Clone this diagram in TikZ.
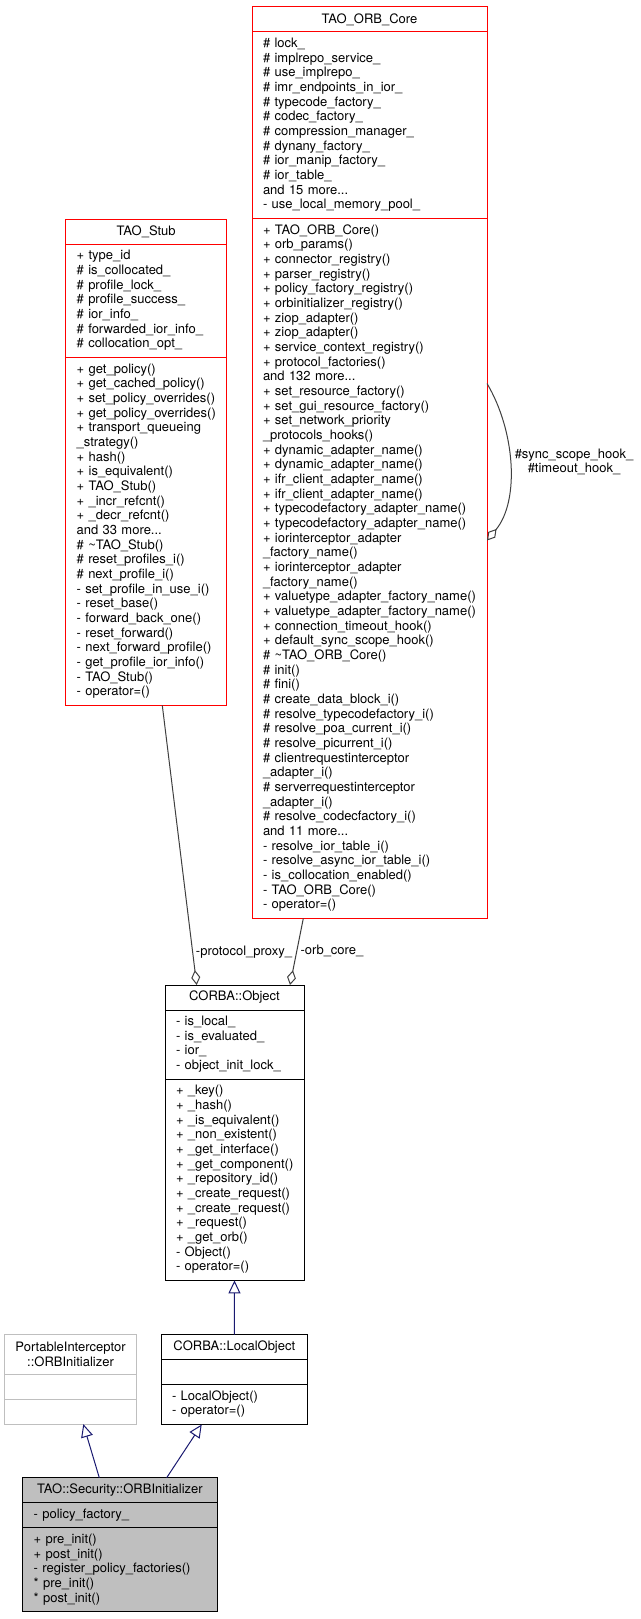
\documentclass[tikz,border=0pt]{standalone}
\usepackage{fontspec}
\setmainfont{TeX Gyre Heros}
\usetikzlibrary{positioning,arrows.meta}
\definecolor{edgegray}{HTML}{404040}
\definecolor{boxgray}{HTML}{BFBFBF}
\definecolor{navy}{HTML}{191970}
\newcommand{\umlfont}{\fontsize{13pt}{14.67pt}\selectfont\hyphenpenalty=10000 }
\begin{document}
\begin{tikzpicture}[x=1pt,y=-1pt,line width=1pt,
  classtitle/.style={draw, inner sep=0pt, outer sep=0pt, text width=#1, align=center, minimum height=25pt, font=\umlfont},
  member/.style={draw, inner sep=0pt, outer sep=0pt, text width=#1, align=left, font=\umlfont,
    execute at begin node={\leftskip=11pt\strut}, execute at end node={\strut}},
  emptypart/.style={draw, inner sep=0pt, outer sep=0pt, minimum width=#1, minimum height=25pt},
  aggr/.style={draw=edgegray, -{Diamond[open,length=15pt,width=9pt]}},
  inherit/.style={draw=navy, -{Triangle[open,length=13pt,width=12pt]}},
  edgelabel/.style={inner sep=0pt, font=\umlfont}]
\useasboundingbox (0,0) rectangle (640,1619);
\node[classtitle=235pt, draw=red, anchor=north west] (core) at (252,7) {TAO\_ORB\_Core};
\node[member=235pt, draw=red, minimum height=186.5pt, below=0pt of core] (coreattr) {\# lock\_\\
\# implrepo\_service\_\\
\# use\_implrepo\_\\
\# imr\_endpoints\_in\_ior\_\\
\# typecode\_factory\_\\
\# codec\_factory\_\\
\# compression\_manager\_\\
\# dynany\_factory\_\\
\# ior\_manip\_factory\_\\
\# ior\_table\_\\
and 15 more...\\
- use\_local\_memory\_pool\_};
\node[member=235pt, draw=red, minimum height=700pt, below=0pt of coreattr] (coreops) {+ TAO\_ORB\_Core()\\
+ orb\_params()\\
+ connector\_registry()\\
+ parser\_registry()\\
+ policy\_factory\_registry()\\
+ orbinitializer\_registry()\\
+ ziop\_adapter()\\
+ ziop\_adapter()\\
+ service\_context\_registry()\\
+ protocol\_factories()\\
and 132 more...\\
+ set\_resource\_factory()\\
+ set\_gui\_resource\_factory()\\
+ set\_network\_priority\\
\_protocols\_hooks()\\
+ dynamic\_adapter\_name()\\
+ dynamic\_adapter\_name()\\
+ ifr\_client\_adapter\_name()\\
+ ifr\_client\_adapter\_name()\\
+ typecodefactory\_adapter\_name()\\
+ typecodefactory\_adapter\_name()\\
+ iorinterceptor\_adapter\\
\_factory\_name()\\
+ iorinterceptor\_adapter\\
\_factory\_name()\\
+ valuetype\_adapter\_factory\_name()\\
+ valuetype\_adapter\_factory\_name()\\
+ connection\_timeout\_hook()\\
+ default\_sync\_scope\_hook()\\
\# \textasciitilde TAO\_ORB\_Core()\\
\# init()\\
\# fini()\\
\# create\_data\_block\_i()\\
\# resolve\_typecodefactory\_i()\\
\# resolve\_poa\_current\_i()\\
\# resolve\_picurrent\_i()\\
\# clientrequestinterceptor\\
\_adapter\_i()\\
\# serverrequestinterceptor\\
\_adapter\_i()\\
\# resolve\_codecfactory\_i()\\
and 11 more...\\
- resolve\_ior\_table\_i()\\
- resolve\_async\_ior\_table\_i()\\
- is\_collocation\_enabled()\\
- TAO\_ORB\_Core()\\
- operator=()};
\node[classtitle=161pt, draw=red, anchor=north west] (stub) at (65.7,219.3) {TAO\_Stub};
\node[member=161pt, draw=red, minimum height=113.2pt, below=0pt of stub] (stubattr) {+ type\_id\\
\# is\_collocated\_\\
\# profile\_lock\_\\
\# profile\_success\_\\
\# ior\_info\_\\
\# forwarded\_ior\_info\_\\
\# collocation\_opt\_};
\node[member=161pt, draw=red, minimum height=347.9pt, below=0pt of stubattr] (stubops) {+ get\_policy()\\
+ get\_cached\_policy()\\
+ set\_policy\_overrides()\\
+ get\_policy\_overrides()\\
+ transport\_queueing\\
\_strategy()\\
+ hash()\\
+ is\_equivalent()\\
+ TAO\_Stub()\\
+ \_incr\_refcnt()\\
+ \_decr\_refcnt()\\
and 33 more...\\
\# \textasciitilde TAO\_Stub()\\
\# reset\_profiles\_i()\\
\# next\_profile\_i()\\
- set\_profile\_in\_use\_i()\\
- reset\_base()\\
- forward\_back\_one()\\
- reset\_forward()\\
- next\_forward\_profile()\\
- get\_profile\_ior\_info()\\
- TAO\_Stub()\\
- operator=()};
\node[classtitle=139pt, anchor=north west] (obj) at (165,985) {CORBA::Object};
\node[member=139pt, minimum height=69.2pt, below=0pt of obj] (objattr) {- is\_local\_\\
- is\_evaluated\_\\
- ior\_\\
- object\_init\_lock\_};
\node[member=139pt, minimum height=201.2pt, below=0pt of objattr] (objops) {+ \_key()\\
+ \_hash()\\
+ \_is\_equivalent()\\
+ \_non\_existent()\\
+ \_get\_interface()\\
+ \_get\_component()\\
+ \_repository\_id()\\
+ \_create\_request()\\
+ \_create\_request()\\
+ \_request()\\
+ \_get\_orb()\\
- Object()\\
- operator=()};
\node[classtitle=132.4pt, draw=boxgray, minimum height=39.8pt, anchor=north west] (pi) at (4.3,1334.3) {PortableInterceptor\\::ORBInitializer};
\node[emptypart=132.4pt, draw=boxgray, below=0pt of pi] (piattr) {};
\node[emptypart=132.4pt, draw=boxgray, below=0pt of piattr] (piops) {};
\node[classtitle=146.7pt, anchor=north west] (local) at (161,1334.7) {CORBA::LocalObject};
\node[emptypart=146.7pt, below=0pt of local] (localattr) {};
\node[member=146.7pt, minimum height=39.8pt, below=0pt of localattr] (localops) {- LocalObject()\\
- operator=()};
\node[classtitle=194.6pt, fill=boxgray, anchor=north west] (sec) at (22.7,1477.7) {TAO::Security::ORBInitializer};
\node[member=194.6pt, fill=boxgray, minimum height=25.2pt, below=0pt of sec] (secattr) {- policy\_factory\_};
\node[member=194.6pt, fill=boxgray, minimum height=83.9pt, below=0pt of secattr] (secops) {+ pre\_init()\\
+ post\_init()\\
- register\_policy\_factories()\\
{*} pre\_init()\\
{*} post\_init()};
\draw[aggr] ([xshift=96.6pt]stubops.south west) -- ([xshift=31.7pt]obj.north west);
\draw[aggr] ([xshift=51.3pt]coreops.south west) -- ([xshift=125pt]obj.north west);
\draw[aggr] ([yshift=-165pt]coreops.north east) .. controls +(28,47) and +(33,-40) .. ([yshift=-322pt]coreops.north east);
\node[edgelabel] (proxylabel) at (244,952) {-protocol\_proxy\_};
\node[edgelabel] (corelabel) at (332,951) {-orb\_core\_};
\node[edgelabel, align=center] (hooklabel) at (574,462) {\#sync\_scope\_hook\_\\\#timeout\_hook\_};
\draw[inherit] (local.north) -- (objops.south);
\draw[inherit] ([xshift=76.6pt]sec.north west) -- ([xshift=79pt]piops.south west);
\draw[inherit] ([xshift=144pt]sec.north west) -- ([xshift=40.7pt]localops.south west);
\end{tikzpicture}
\end{document}
